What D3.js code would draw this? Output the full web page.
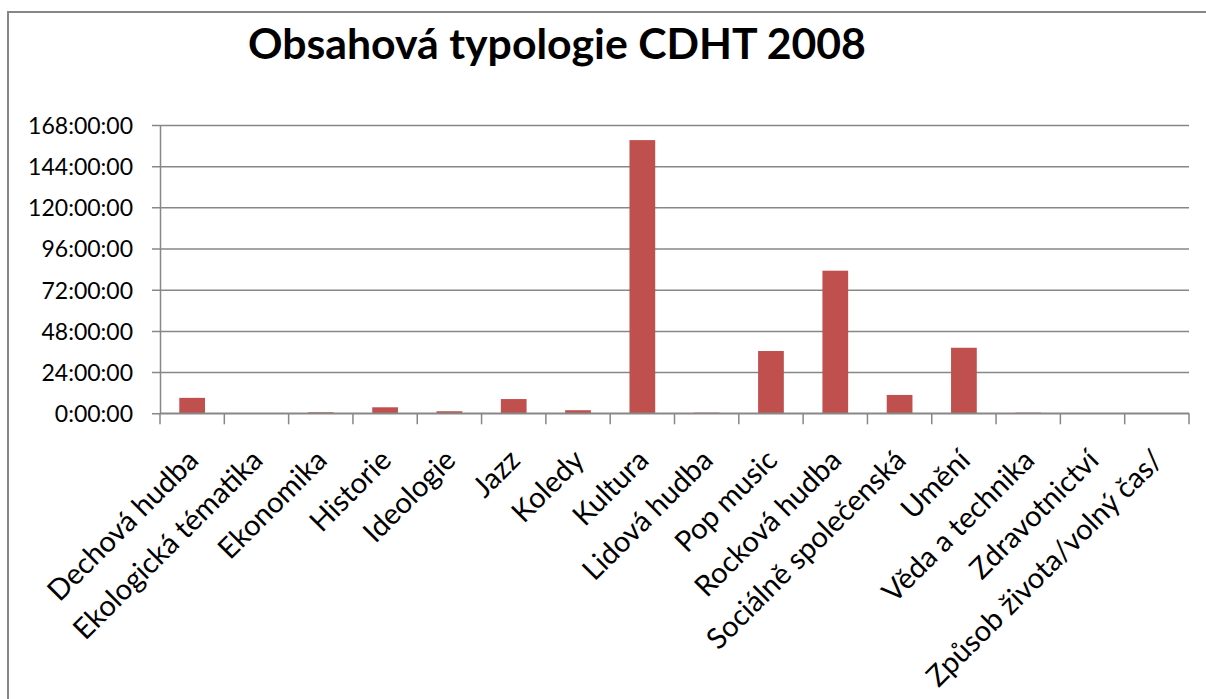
<!DOCTYPE html>
<html>
<head>
<meta charset="utf-8">
<script src="https://cdn.jsdelivr.net/npm/d3@7"></script>
<style>
  html, body { margin: 0; padding: 0; background: #fff; }
  svg { display: block; }
</style>
</head>
<body>
<svg id="chart" width="1206" height="699"></svg>
<script>
const title = "Obsahová typologie CDHT 2008";
const categories = [
  "Dechová hudba", "Ekologická tématika", "Ekonomika", "Historie", "Ideologie",
  "Jazz", "Koledy", "Kultura", "Lidová hudba", "Pop music", "Rocková hudba",
  "Sociálně společenská", "Umění", "Věda a technika", "Zdravotnictví",
  "Způsob života/volný čas/"
];
// duration in hours
const hours = [9.0, 0, 0.6, 3.5, 1.2, 8.3, 1.8, 159.2, 0.4, 36.3, 83.1, 10.7, 38.2, 0.4, 0.15, 0.15];
const yTicks = [0, 24, 48, 72, 96, 120, 144, 168];

const svg = d3.select("#chart");
const W = 1206, H = 699;
const plot = { left: 160, right: 1189, top: 125, bottom: 413.3 };

svg.append("rect").attr("width", W).attr("height", H).attr("fill", "#fff");
// outer chart border (extends past the window on right/bottom)
svg.append("rect")
  .attr("x", 8).attr("y", 12).attr("width", W + 20).attr("height", H + 20)
  .attr("fill", "none").attr("stroke", "#878787").attr("stroke-width", 2);

const x = d3.scaleBand().domain(categories).range([plot.left, plot.right])
  .paddingInner(0.6).paddingOuter(0.3);
const xb = d3.scaleBand().domain(categories).range([plot.left, plot.right]);
const y = d3.scaleLinear().domain([0, 168]).range([plot.bottom, plot.top]);

// title
const t = svg.append("text").text(title)
  .attr("x", 248).attr("y", 59)
  .attr("font-family", "Lato, 'Open Sans', sans-serif")
  .attr("font-weight", "bold").attr("font-size", 36).attr("fill", "#000");
const tw = t.node().getComputedTextLength();
t.attr("font-size", 36 * 618 / tw);

// gridlines + y axis
const yAxis = d3.axisLeft(y).tickValues(yTicks)
  .tickFormat(d => d + ":00:00")
  .tickSize(-(plot.right - plot.left)).tickSizeOuter(0);
const gy = svg.append("g").attr("transform", `translate(${plot.left},0)`).call(yAxis);
gy.select(".domain").attr("stroke", "#878787").attr("stroke-width", 1.5);
gy.selectAll(".tick line").attr("stroke", "#878787").attr("stroke-width", 1.5)
  .attr("x1", -8);
gy.selectAll(".tick text")
  .attr("x", -27).attr("dy", "0.36em")
  .attr("font-family", "Lato, 'Open Sans', sans-serif")
  .attr("font-size", 23).attr("fill", "#000");

// bars
svg.append("g").selectAll("rect").data(categories).join("rect")
  .attr("x", d => x(d))
  .attr("width", x.bandwidth())
  .attr("y", (d, i) => y(hours[i]))
  .attr("height", (d, i) => y(0) - y(hours[i]))
  .attr("fill", "#C0504D");

// x axis
const gx = svg.append("g").attr("transform", `translate(0,${plot.bottom})`);
gx.append("line").attr("x1", plot.left).attr("x2", plot.right)
  .attr("stroke", "#878787").attr("stroke-width", 1.5);
const boundaries = categories.map(c => xb(c)).concat([plot.right]);
gx.selectAll("line.tk").data(boundaries).join("line").attr("class", "tk")
  .attr("x1", d => d).attr("x2", d => d).attr("y1", 0).attr("y2", 11)
  .attr("stroke", "#878787").attr("stroke-width", 1.5);
gx.selectAll("text").data(categories).join("text")
  .attr("transform", d => `translate(${xb(d) + xb.bandwidth() / 2 + 8},${462 - plot.bottom}) rotate(-45)`)
  .attr("text-anchor", "end")
  .attr("font-family", "Lato, 'Open Sans', sans-serif")
  .attr("font-size", 29).attr("fill", "#000")
  .text(d => d);
</script>
</body>
</html>
